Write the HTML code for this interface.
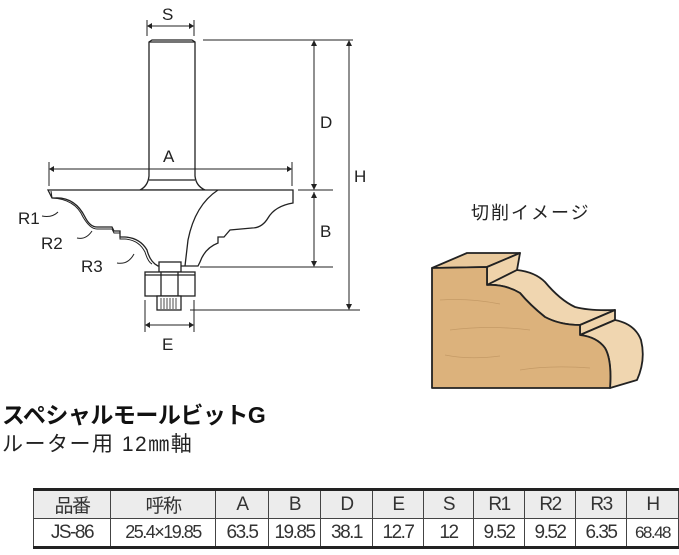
<!DOCTYPE html>
<html><head><meta charset="utf-8"><style>
body{margin:0;width:679px;height:555px;background:#fff;overflow:hidden;position:relative;font-family:"Liberation Sans","Noto Sans CJK JP",sans-serif}
.t{position:absolute;white-space:nowrap}
table{position:absolute;left:33px;top:488px;border-collapse:collapse;border-top:3px solid #222;border-bottom:3px solid #222}
td{border:1px solid #444;padding:0;text-align:center;font-size:19px;color:#333;height:27px;letter-spacing:-1.5px}
tr:first-child td{background:#ececec;height:22px}
</style></head><body>
<svg width="679" height="555" style="position:absolute;left:0;top:0" font-family="Liberation Sans" fill="none" stroke="#222" stroke-width="1.3">
<path d="M149,42 L152,40 L192,40 L195,42 L195,176 Q196,186 205,190 L140,190 Q148,186 149,176 Z" fill="#fff"/>
<line x1="149" y1="42" x2="195" y2="42"/>
<line x1="149" y1="180" x2="195" y2="180"/>
<path d="M48,190 L293,190 L293,203 Q275,206 268,218 Q262,228 252,228 L230,230 L224,237 L218,237 L218,243 Q205,248 200,262 L198,266 L158,266 Q150,262 147,250 Q140,238 125,237 L120,237 L120,231 L114,231 L112,227 L97,227 Q90,227 85,217 Q75,197 55,198 L52,198 L48,190 Z" fill="#fff"/>
<path d="M51,191 L52,198 Q75,199 83,217 Q90,229 97,229 L112,229 L114,233 L120,233 L120,239 L125,239 Q139,240 145,252 Q148,262 152,264" stroke-width="1"/>
<path d="M218,190 Q195,205 188,240 L185,266" />
<rect x="159" y="262" width="22" height="10" fill="#fff"/>
<rect x="145" y="272" width="50" height="24" fill="#fff"/>
<line x1="145" y1="275" x2="195" y2="275"/>
<line x1="161" y1="272" x2="161" y2="296"/><line x1="178" y1="272" x2="178" y2="296"/>
<rect x="157" y="296" width="24" height="14" fill="#fff"/>
<path d="M161,298v11M164,298v11M167,298v11M170,298v11M173,298v11M176,298v11" stroke-width="0.8"/>
<g stroke-width="1">
<line x1="147" y1="20" x2="147" y2="36"/><line x1="194" y1="20" x2="194" y2="36"/><line x1="149" y1="26" x2="192" y2="26"/>
<line x1="49" y1="162" x2="49" y2="186"/><line x1="292" y1="162" x2="292" y2="186"/><line x1="51" y1="169" x2="290" y2="169"/>
<line x1="203" y1="40" x2="353" y2="40"/>
<line x1="298" y1="190" x2="333" y2="190"/>
<line x1="200" y1="267" x2="333" y2="267"/>
<line x1="190" y1="310" x2="360" y2="310"/>
<line x1="314" y1="42" x2="314" y2="188"/><line x1="314" y1="192" x2="314" y2="265"/>
<line x1="349" y1="42" x2="349" y2="308"/>
<line x1="145" y1="300" x2="145" y2="332"/><line x1="194" y1="300" x2="194" y2="332"/><line x1="147" y1="325" x2="192" y2="325"/>
<path d="M42,216 Q52,218 58,212 M77,238 Q86,240 92,231 M117,263 Q128,265 134,254"/>
</g>
<g fill="#222" stroke="none">
<path d="M147,26l5,-3v6zM194,26l-5,-3v6zM49,169l5,-3v6zM292,169l-5,-3v6zM314,40l-3,6h6zM314,190l-3,-6h6zM314,192l-3,6h6zM314,267l-3,-6h6zM349,40l-3,6h6zM349,310l-3,-6h6zM145,325l5,-3v6zM194,325l-5,-3v6z"/>
</g>
<g fill="#222" stroke="none" font-size="17">
<text x="162" y="20">S</text><text x="163" y="162">A</text><text x="320" y="128">D</text><text x="320" y="237">B</text><text x="354" y="182">H</text><text x="162" y="350">E</text>
<text x="18" y="224">R1</text><text x="41" y="249">R2</text><text x="81" y="272">R3</text>
</g>
<g stroke="#222" stroke-width="1.8" stroke-linejoin="round">
<path d="M432,268 L467,253 L520,253 L487,267 Z" fill="#e9c99c"/>
<path d="M487,267 L520,253 L517,270 L487,285 Z" fill="#efd3aa"/>
<path d="M487,285 L517,270 Q535,272 545,282 Q560,300 575,307 Q590,311 615,310 L580,325 Q560,325 545,317 Q530,305 520,293 Q505,284 487,285 Z" fill="#f0d6b0"/>
<path d="M580,325 L615,310 L615,320 L580,335 Z" fill="#efd3aa"/>
<path d="M580,335 L615,320 Q635,324 641,340 Q646,360 637,380 L610,388 Q612,360 605,348 Q597,337 580,335 Z" fill="#f0d6b0"/>
<path d="M432,268 L487,267 L487,285 Q505,284 520,293 Q530,305 545,317 Q560,325 580,325 L580,335 Q597,337 605,348 Q612,360 610,388 L432,388 Z" fill="#dcb27c"/>
</g>
<g stroke="#c49a66" stroke-width="0.8" fill="none"><path d="M440,300 Q470,298 500,304M450,330 Q490,325 530,330M445,355 Q470,360 500,356M520,370 Q550,365 590,368"/></g>
</svg>
<div class="t" style="left:471px;top:199px;font-size:18px;color:#222;letter-spacing:2px">切削イメージ</div>
<div class="t" style="left:2px;top:396px;font-size:23px;font-weight:bold;color:#111;letter-spacing:-0.5px">スペシャルモールビットG</div>
<div class="t" style="left:2px;top:428px;font-size:21px;color:#222;letter-spacing:1.5px">ルーター用 12㎜軸</div>
<table>
<tr><td style="width:76px">品番</td><td style="width:104px">呼称</td><td style="width:52px">A</td><td style="width:51px">B</td><td style="width:51px">D</td><td style="width:50px">E</td><td style="width:49px">S</td><td style="width:50px">R1</td><td style="width:50px">R2</td><td style="width:50px">R3</td><td style="width:51px">H</td></tr>
<tr><td>JS-86</td><td style="font-size:18px">25.4×19.85</td><td>63.5</td><td>19.85</td><td>38.1</td><td>12.7</td><td>12</td><td>9.52</td><td>9.52</td><td>6.35</td><td style="font-size:17px">68.48</td></tr>
</table>
</body></html>
